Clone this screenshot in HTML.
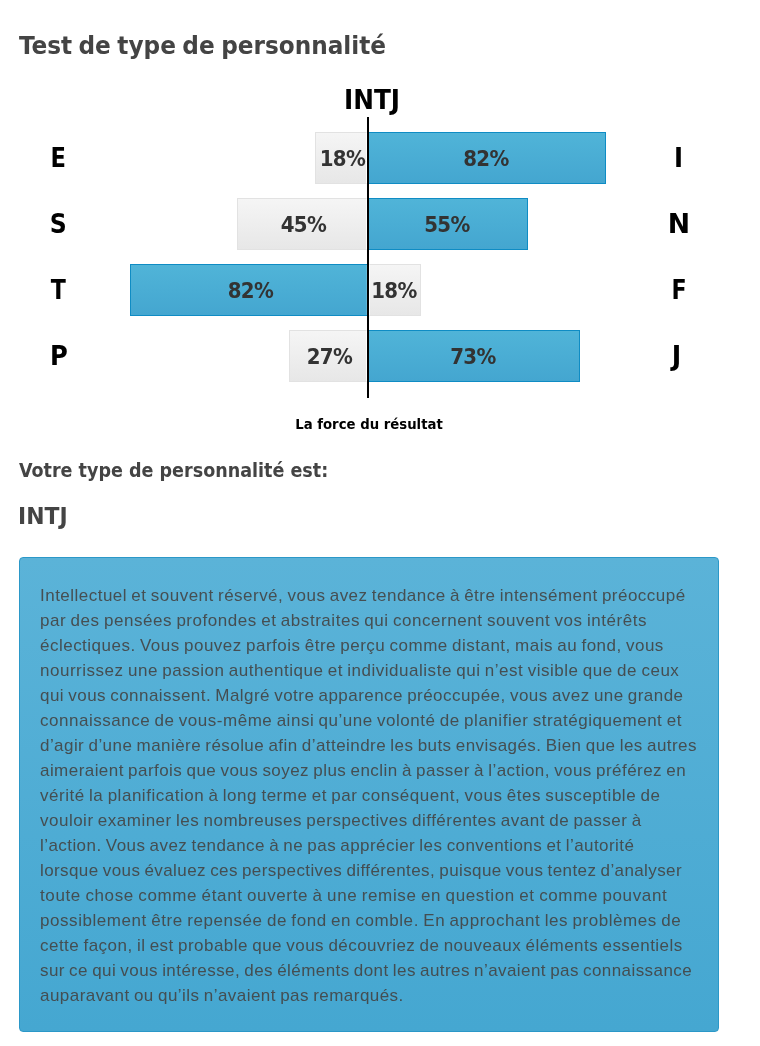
<!DOCTYPE html>
<html lang="fr">
<head>
<meta charset="utf-8">
<title>Test de type de personnalité</title>
<style>
html,body{margin:0;padding:0;background:#fff;}
body{width:760px;height:1046px;position:relative;overflow:hidden;font-family:"Liberation Sans",sans-serif;color:#444;}
.abs{position:absolute;white-space:nowrap;margin:0;}
h1.title{left:19px;top:29.6px;font-size:24.5px;line-height:32px;font-weight:bold;color:#444;font-family:"DejaVu Sans Condensed","DejaVu Sans","Liberation Sans",sans-serif;font-stretch:condensed;transform-origin:0 50%;word-spacing:-1.5px;transform:scaleX(1.052);}
.type{left:272px;width:200px;text-align:center;top:83px;font-size:27px;line-height:34px;font-weight:bold;color:#000;font-family:"DejaVu Sans Condensed","DejaVu Sans","Liberation Sans",sans-serif;font-stretch:condensed;transform:scaleX(1.02);}
.axis{position:absolute;left:367px;top:117px;width:2px;height:281px;background:#000;}
.lt{position:absolute;width:60px;text-align:center;font-size:27px;line-height:51px;height:52px;font-weight:bold;color:#000;font-family:"DejaVu Sans Condensed","DejaVu Sans","Liberation Sans",sans-serif;font-stretch:condensed;}
.lt.l{left:28px;}
.lt.r{left:648.5px;}
.bar{position:absolute;height:52px;box-sizing:border-box;text-align:center;font-size:22px;line-height:51px;font-weight:bold;color:#333;white-space:nowrap;letter-spacing:-0.6px;font-family:"DejaVu Sans Condensed","DejaVu Sans","Liberation Sans",sans-serif;font-stretch:condensed;}
.bar.blue{background:linear-gradient(to bottom,#50b4d8 0%,#44a6d0 100%);border:1px solid #0f8cc4;}
.bar.grey{background:linear-gradient(to bottom,#f5f5f5 0%,#e7e7e7 100%);border:1px solid #e2e2e2;}
.bar.L{padding-left:3px;border-right:0;}
.bar.blue.L{box-shadow:inset -1px 0 0 rgba(255,255,255,.14);}
.bar.grey.L{border-right:1px solid #fff;}
.bar.R{padding-right:2px;border-left:0;}
.bar.grey.R{border-left:1px solid #fff;}
.r1{top:132px}.r2{top:198px}.r3{top:264px}.r4{top:330px}
.cap{left:269px;width:200px;text-align:center;top:414px;font-size:14.5px;line-height:20px;font-weight:bold;color:#000;font-family:"DejaVu Sans Condensed","DejaVu Sans","Liberation Sans",sans-serif;font-stretch:condensed;transform:scaleX(1.017);}
h2.sub{left:19px;top:458px;font-size:19.5px;line-height:26px;font-weight:bold;color:#444;font-family:"DejaVu Sans Condensed","DejaVu Sans","Liberation Sans",sans-serif;font-stretch:condensed;transform-origin:0 50%;transform:scaleX(1);}
h3.res{left:18.3px;top:501px;font-size:23.5px;line-height:30px;font-weight:bold;color:#444;font-family:"DejaVu Sans Condensed","DejaVu Sans","Liberation Sans",sans-serif;font-stretch:condensed;transform-origin:0 50%;transform:scaleX(1.035);}
.box{position:absolute;left:19px;top:557px;width:700px;height:475px;box-sizing:border-box;border:1px solid #2b98c8;border-radius:4px;background:linear-gradient(to bottom,#5bb3d8 0%,#45a7d1 100%);}
.box p{position:absolute;left:20px;top:25px;margin:0;font-size:17px;line-height:25px;color:rgba(68,68,68,.9);word-spacing:-0.9px;}
.box p span{display:block;white-space:nowrap;}
</style>
</head>
<body>
<h1 class="abs title">Test de type de personnalité</h1>
<div class="abs type">INTJ</div>

<div class="lt l r1" style="transform:translateX(0.2px) scaleX(.93)">E</div><div class="lt r r1">I</div>
<div class="lt l r2" style="transform:translateX(0.2px) scaleX(.97)">S</div><div class="lt r r2" style="transform:scaleX(1.1)">N</div>
<div class="lt l r3" style="transform:translateX(0.2px) scaleX(.91)">T</div><div class="lt r r3" style="transform:translateX(0px) scaleX(.91)">F</div>
<div class="lt l r4" style="transform:translateX(1px)">P</div><div class="lt r r4" style="transform:translateX(-2.5px) scaleX(1.05)">J</div>

<div class="bar grey L r1" style="left:315px;width:52px">18%</div>
<div class="bar blue R r1" style="left:369px;width:237px">82%</div>
<div class="bar grey L r2" style="left:237px;width:130px">45%</div>
<div class="bar blue R r2" style="left:369px;width:159px">55%</div>
<div class="bar blue L r3" style="left:130px;width:237px">82%</div>
<div class="bar grey R r3" style="left:369px;width:52px">18%</div>
<div class="bar grey L r4" style="left:289px;width:78px">27%</div>
<div class="bar blue R r4" style="left:369px;width:211px">73%</div>
<div class="axis"></div>

<div class="abs cap">La force du résultat</div>
<h2 class="abs sub">Votre type de personnalité est:</h2>
<h3 class="abs res">INTJ</h3>

<div class="box">
<p>
<span style="letter-spacing:0.481px">Intellectuel et souvent réservé, vous avez tendance à être intensément préoccupé</span>
<span style="letter-spacing:0.541px">par des pensées profondes et abstraites qui concernent souvent vos intérêts</span>
<span style="letter-spacing:0.487px">éclectiques. Vous pouvez parfois être perçu comme distant, mais au fond, vous</span>
<span style="letter-spacing:0.519px">nourrissez une passion authentique et individualiste qui n’est visible que de ceux</span>
<span style="letter-spacing:0.447px">qui vous connaissent. Malgré votre apparence préoccupée, vous avez une grande</span>
<span style="letter-spacing:0.519px">connaissance de vous-même ainsi qu’une volonté de planifier stratégiquement et</span>
<span style="letter-spacing:0.440px">d’agir d’une manière résolue afin d’atteindre les buts envisagés. Bien que les autres</span>
<span style="letter-spacing:0.445px">aimeraient parfois que vous soyez plus enclin à passer à l’action, vous préférez en</span>
<span style="letter-spacing:0.519px">vérité la planification à long terme et par conséquent, vous êtes susceptible de</span>
<span style="letter-spacing:0.493px">vouloir examiner les nombreuses perspectives différentes avant de passer à</span>
<span style="letter-spacing:0.434px">l’action. Vous avez tendance à ne pas apprécier les conventions et l’autorité</span>
<span style="letter-spacing:0.400px">lorsque vous évaluez ces perspectives différentes, puisque vous tentez d’analyser</span>
<span style="letter-spacing:0.625px">toute chose comme étant ouverte à une remise en question et comme pouvant</span>
<span style="letter-spacing:0.560px">possiblement être repensée de fond en comble. En approchant les problèmes de</span>
<span style="letter-spacing:0.468px">cette façon, il est probable que vous découvriez de nouveaux éléments essentiels</span>
<span style="letter-spacing:0.420px">sur ce qui vous intéresse, des éléments dont les autres n’avaient pas connaissance</span>
<span style="letter-spacing:0.455px">auparavant ou qu’ils n’avaient pas remarqués.</span>
</p>
</div>
</body>
</html>
